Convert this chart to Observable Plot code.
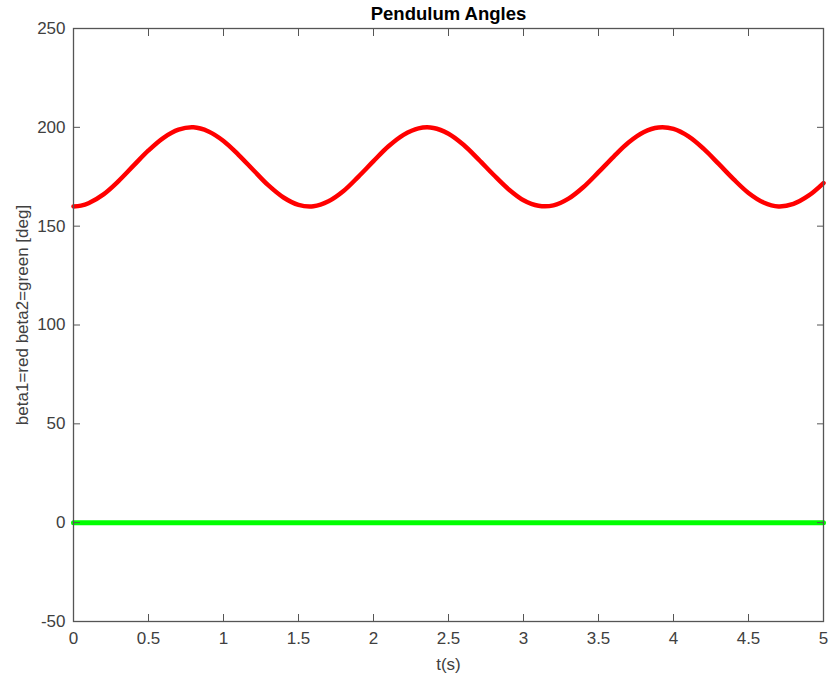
<!DOCTYPE html>
<html>
<head>
<meta charset="utf-8">
<script src="https://cdn.jsdelivr.net/npm/d3@7"></script>
<script src="https://cdn.jsdelivr.net/npm/@observablehq/plot@0.6"></script>
<style>
  html, body { margin: 0; padding: 0; background: #fff; }
  #chart svg { display: block; }
</style>
</head>
<body>
<div id="chart"></div>
<script>
const time = [0,0.05,0.1,0.2,0.3,0.4,0.5,0.6,0.7,0.8,0.9,1.0,1.1,1.2,1.3,1.4,1.5,1.6,1.7,1.8,1.9,2.0,2.1,2.2,2.3,2.4,2.5,2.6,2.7,2.8,2.9,3.0,3.1,3.2,3.3,3.4,3.5,3.6,3.7,3.8,3.9,4.0,4.1,4.2,4.3,4.4,4.5,4.6,4.7,4.8,4.9,5.0];
const beta1 = [160.0,160.4,161.6,166.1,172.8,180.6,188.3,194.7,198.8,200.0,197.9,193.1,186.1,178.3,170.6,164.5,160.8,160.1,162.6,167.8,175.1,182.9,190.4,196.2,199.5,199.7,196.8,191.2,183.8,176.0,168.7,163.1,160.3,160.5,163.9,169.8,177.3,185.1,192.3,197.5,199.9,199.2,195.4,189.2,181.6,173.8,166.8,162.0,160.0,161.3,165.4,171.8];
const beta2Time = [0, 5];
const beta2 = [0, 0];
const xTicks = [0,0.5,1,1.5,2,2.5,3,3.5,4,4.5,5];
const yTicks = [-50,0,50,100,150,200,250];
const titleText = "Pendulum Angles";
const xLabel = "t(s)";
const yLabel = "beta1=red beta2=green [deg]";

const redData = time.map((t, i) => ({t, v: beta1[i]}));
const greenData = beta2Time.map((t, i) => ({t, v: beta2[i]}));

const axisColor = "#555";
const font = "Liberation Sans, Arial, sans-serif";
const fmt = d => String(d);

const chart = Plot.plot({
  width: 829,
  height: 678,
  marginLeft: 73,
  marginRight: 6,
  marginTop: 28,
  marginBottom: 57,
  style: {fontFamily: font, fontSize: "17px", color: "#404040", background: "#fff"},
  x: {domain: [0, 5], ticks: xTicks},
  y: {domain: [-50, 250], ticks: yTicks},
  marks: [
    Plot.line(greenData, {x: "t", y: "v", stroke: "#00ff00", strokeWidth: 5}),
    Plot.line(redData, {x: "t", y: "v", stroke: "#ff0000", strokeWidth: 4.5, curve: "catmull-rom"}),
    Plot.frame({stroke: axisColor, strokeWidth: 1.3}),
    Plot.axisX({anchor: "bottom", ticks: xTicks, tickSize: -7, tickFormat: () => "", stroke: axisColor, label: null}),
    Plot.axisX({anchor: "top", ticks: xTicks, tickSize: -7, tickFormat: () => "", stroke: axisColor, label: null}),
    Plot.axisY({anchor: "left", ticks: yTicks, tickSize: -7, tickFormat: () => "", stroke: axisColor, label: null}),
    Plot.axisY({anchor: "right", ticks: yTicks, tickSize: -7, tickFormat: () => "", stroke: axisColor, label: null}),
    Plot.axisX({anchor: "bottom", ticks: xTicks, tickSize: 0, tickPadding: 10, tickFormat: fmt, fontSize: 17, fill: "#404040", label: null}),
    Plot.axisY({anchor: "left", ticks: yTicks, tickSize: 0, tickPadding: 8, tickFormat: fmt, fontSize: 17, fill: "#404040", label: null}),
    Plot.text([xLabel], {frameAnchor: "bottom", lineAnchor: "middle", dy: 43, text: d => d, fontSize: 17, fill: "#404040"}),
    Plot.text([yLabel], {frameAnchor: "left", textAnchor: "middle", lineAnchor: "middle", dx: -51, dy: -10, rotate: -90, text: d => d, fontSize: 17, fill: "#404040"}),
    Plot.text([titleText], {frameAnchor: "top", lineAnchor: "middle", dy: -14, text: d => d, fontSize: 18.5, fontWeight: "bold", fill: "#000"})
  ]
});
document.getElementById("chart").appendChild(chart);
</script>
</body>
</html>
